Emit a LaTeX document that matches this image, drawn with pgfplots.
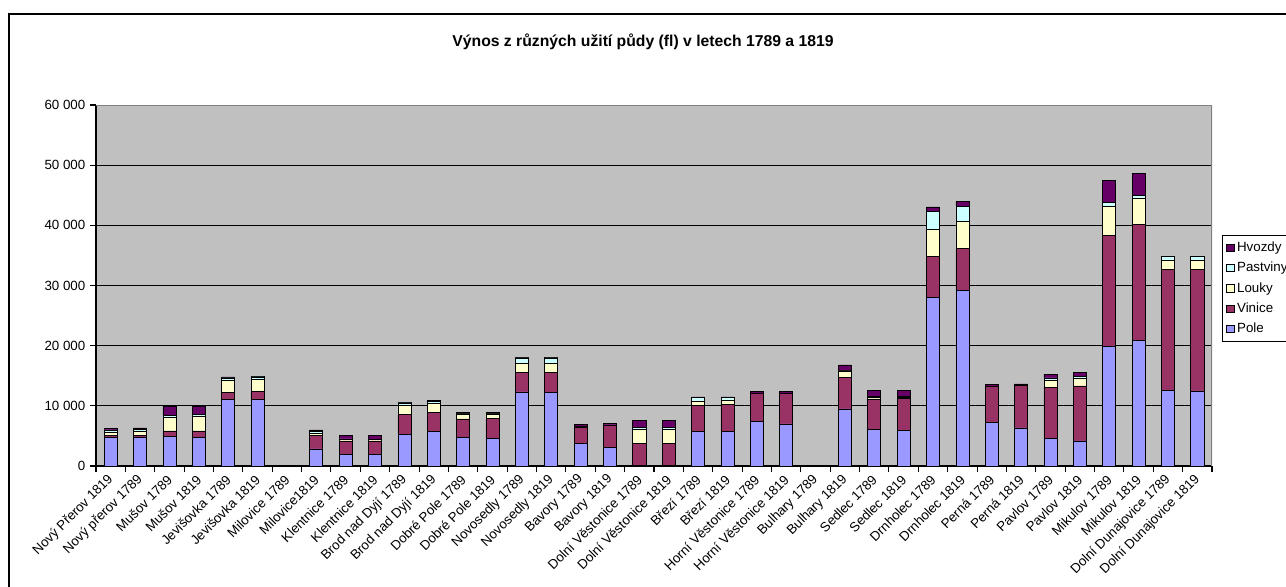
\documentclass[border=0pt]{standalone}
\usepackage{fontspec}
\setmainfont{Liberation Sans}
\usepackage{pgfplots}
\usepackage{pgfplotstable}
\pgfplotsset{compat=1.18}
\definecolor{cPole}{RGB}{153,153,255}
\definecolor{cVinice}{RGB}{153,51,102}
\definecolor{cLouky}{RGB}{255,255,204}
\definecolor{cPastviny}{RGB}{204,255,255}
\definecolor{cHvozdy}{RGB}{102,0,102}
\definecolor{plotgray}{RGB}{192,192,192}
\pgfplotstableread{
x Pole Vinice Louky Pastviny Hvozdy
1 4750 300 600 350 200
2 4710 400 600 350 280
3 4880 940 2280 330 1440
4 4710 1110 2500 280 1380
5 11090 1110 2060 380 170
6 11090 1280 2060 380 110
7 0 0 0 0 0
8 2830 2270 250 350 300
9 1900 2270 220 100 560
10 1900 2270 250 60 570
11 5270 3270 1560 380 110
12 5710 3160 1500 350 150
13 4780 3040 830 100 120
14 4550 3380 720 100 120
15 12310 3280 1550 830 120
16 12200 3390 1550 830 120
17 3770 2720 60 60 260
18 3110 3660 60 0 210
19 100 3670 2330 330 1170
20 100 3670 2330 330 1170
21 5710 4390 720 550 110
22 5710 4560 710 390 110
23 7440 4660 0 0 330
24 6990 5110 0 0 330
25 0 0 0 0 0
26 9480 5280 1050 100 900
27 6090 5050 280 100 1000
28 5930 5370 150 150 1030
29 28030 6820 4540 2940 720
30 29250 6930 4540 2490 720
31 7310 5990 0 0 220
32 6320 7140 0 0 170
33 4600 8470 1220 340 660
34 4160 9140 1270 330 610
35 19890 18390 4880 610 3710
36 20890 19330 4270 440 3660
37 12630 20060 1550 550 110
38 12470 20220 1550 550 110
}\data
\pgfplotsset{sqlegend/.style={legend image code/.code={\draw[##1,draw=black,line width=0.5pt] (0pt,-2.8pt) rectangle (5.6pt,2.8pt);}}}
\begin{document}
\begin{tikzpicture}
\begin{axis}[
  at={(72pt,90pt)}, anchor=south west,
  scale only axis, width=837pt, height=270.75pt,
  ybar stacked, bar width=9.8pt,
  xmin=0.5, xmax=38.5, ymin=0, ymax=60000,
  scaled y ticks=false,
  axis background/.style={fill=plotgray},
  axis x line*=bottom, axis y line*=left,
  axis line style={black, line width=0.8pt},
  tick align=outside,
  major tick length=4.5pt, minor tick length=4.5pt,
  xtick={1,...,38},
  minor xtick={0.5,1.5,...,38.5},
  major x tick style={draw=none},
  minor x tick style={black, line width=0.8pt},
  ytick style={black, line width=0.8pt},
  ytick={0,10000,20000,30000,40000,50000,60000},
  yticklabels={0,10 000,20 000,30 000,40 000,50 000,60 000},
  ymajorgrids, grid style={black, line width=0.6pt},
  tick label style={font=\fontsize{10}{12}\selectfont},
  xticklabel style={rotate=45, anchor=east, inner sep=1pt, xshift=-1.5pt, yshift=-3pt},
  xticklabels={Nový Přerov 1819,Nový přerov 1789,Mušov 1789,Mušov 1819,Jevišovka 1789,Jevišovka 1819,Milovice 1789,Milovice1819,Klentnice 1789,Klentnice 1819,Brod nad Dyjí 1789,Brod nad Dyjí 1819,Dobré Pole 1789,Dobré Pole 1819,Novosedly 1789,Novosedly 1819,Bavory 1789,Bavory 1819,Dolní Věstonice 1789,Dolní Věstonice 1819,Březí 1789,Březí 1819,Horní Věstonice 1789,Horní Věstonice 1819,Bulhary 1789,Bulhary 1819,Sedlec 1789,Sedlec 1819,Drnholec 1789,Drnholec 1819,Perná 1789,Perná 1819,Pavlov 1789,Pavlov 1819,Mikulov 1789,Mikulov 1819,Dolní Dunajovice 1789,Dolní Dunajovice 1819},
  reverse legend,
  legend cell align=left,
  legend style={at={(1.009,0.64)}, anchor=north west, draw=black, fill=white,
    font=\fontsize{10}{12}\selectfont, row sep=2.5pt, inner sep=3pt,
    /tikz/every even column/.append style={column sep=1pt}},
  every axis plot/.append style={draw=black, line width=0.5pt},
]
\addplot[fill=cPole, sqlegend] table[x=x,y=Pole]{\data};
\addplot[fill=cVinice, sqlegend] table[x=x,y=Vinice]{\data};
\addplot[fill=cLouky, sqlegend] table[x=x,y=Louky]{\data};
\addplot[fill=cPastviny, sqlegend] table[x=x,y=Pastviny]{\data};
\addplot[fill=cHvozdy, sqlegend] table[x=x,y=Hvozdy]{\data};
\legend{Pole,Vinice,Louky,Pastviny,Hvozdy}
\draw[gray, line width=0.8pt] (rel axis cs:0,1) -- (rel axis cs:1,1) -- (rel axis cs:1,0);
\end{axis}
\node[font=\bfseries\fontsize{11.8}{14}\selectfont] at (482.25pt,408pt) {Výnos z různých užití půdy (fl) v letech 1789 a 1819};
\draw[line width=0.9pt] (6.75pt,-20pt) -- (6.75pt,429pt) -- (1000pt,429pt);
\pgfresetboundingbox
\useasboundingbox (0,0) rectangle (964.5pt,439.5pt);
\end{tikzpicture}
\end{document}
